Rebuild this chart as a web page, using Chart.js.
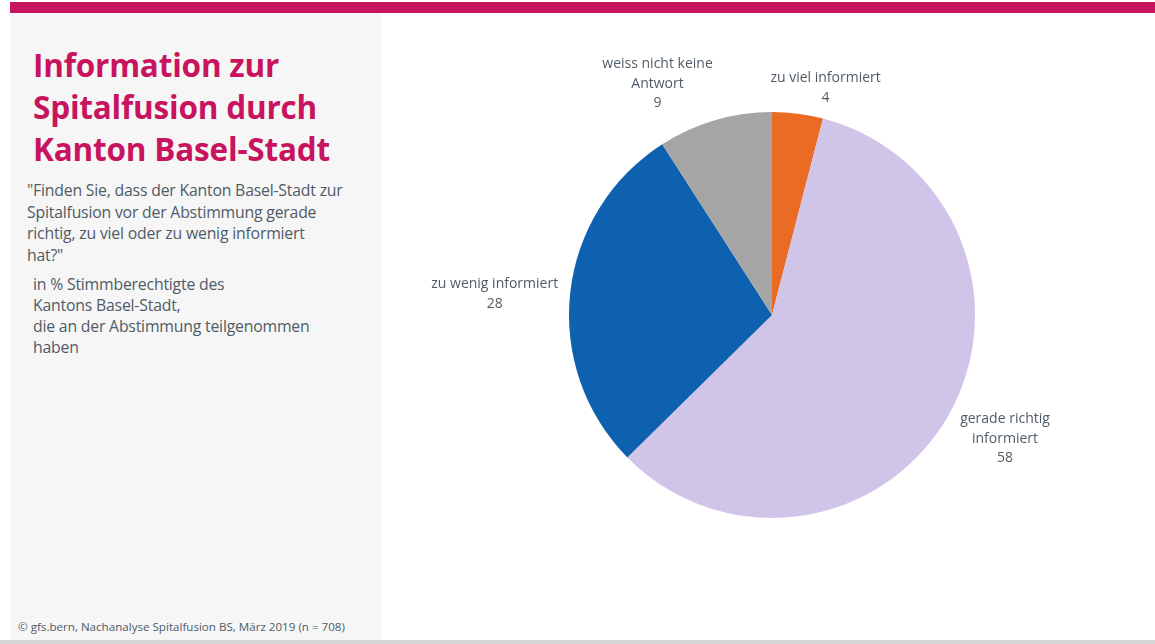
<!DOCTYPE html>
<html lang="de">
<head>
<meta charset="utf-8">
<title>Information zur Spitalfusion durch Kanton Basel-Stadt</title>
<script src="https://cdn.jsdelivr.net/npm/chart.js@4"></script>
<style>
  html, body { margin: 0; padding: 0; background: #fff; }
  body { width: 1155px; height: 644px; position: relative; overflow: hidden; font-family: "Open Sans", "Noto Sans", sans-serif; }
  .topbar { position: absolute; left: 10px; top: 2px; width: 1145px; height: 11px; background: #c8135f; }
  .side { position: absolute; left: 10px; top: 13px; width: 371px; height: 627px; background: #f6f6f6; }
  .bottombar { position: absolute; left: 0; top: 640px; width: 1155px; height: 4px; background: #d6d6d6; }
  h1 { position: absolute; left: 33px; top: 44px; margin: 0; font-size: 31.5px; line-height: 42px; font-weight: 700; color: #c8135f; letter-spacing: -0.2px; }
  .question { position: absolute; left: 27px; top: 180px; margin: 0; font-size: 15.8px; line-height: 21.5px; color: #505b66; white-space: nowrap; letter-spacing: -0.2px; }
  .base { position: absolute; left: 33px; top: 274px; margin: 0; font-size: 15.8px; line-height: 21px; color: #505b66; white-space: nowrap; letter-spacing: -0.2px; }
  .source { position: absolute; left: 18px; top: 619px; margin: 0; font-size: 11.6px; color: #505b66; }
  .chart-box { position: absolute; left: 381px; top: 13px; width: 774px; height: 624px; }
</style>
</head>
<body>
<div class="topbar"></div>
<div class="side"></div>
<div class="bottombar"></div>
<h1>Information zur<br>Spitalfusion durch<br>Kanton Basel-Stadt</h1>
<p class="question">"Finden Sie, dass der Kanton Basel-Stadt zur<br>Spitalfusion vor der Abstimmung gerade<br>richtig, zu viel oder zu wenig informiert<br>hat?"</p>
<p class="base">in % Stimmberechtigte des<br>Kantons Basel-Stadt,<br>die an der Abstimmung teilgenommen<br>haben</p>
<p class="source">© gfs.bern, Nachanalyse Spitalfusion BS, März 2019 (n = 708)</p>
<div class="chart-box"><canvas id="pie"></canvas></div>

<script>
// Answer categories, clockwise from 12 o'clock
const categories = [
    ['zu viel informiert'],
    ['gerade richtig', 'informiert'],
    ['zu wenig informiert'],
    ['weiss nicht keine', 'Antwort']
];
const shares = [4, 58, 28, 9];
const sliceColors = ['#e96b24', '#d0c5e8', '#0e61ae', '#a5a5a5'];

// Label placement: distance from the centre (in radii) and angle nudge (degrees)
const labelDistance = [1.15, 1.30, 1.37, 1.27];
const labelAngleShift = [6, -2, -2, -10];

// Draws the category name and value outside each slice
const outsideLabels = {
    id: 'outsideLabels',
    afterDatasetsDraw(chart) {
        const ctx = chart.ctx;
        const meta = chart.getDatasetMeta(0);
        ctx.save();
        ctx.font = '14px "Open Sans", sans-serif';
        ctx.fillStyle = '#505b66';
        ctx.textAlign = 'center';
        ctx.textBaseline = 'middle';
        meta.data.forEach((arc, i) => {
            const p = arc.getProps(['x', 'y', 'startAngle', 'endAngle', 'outerRadius'], true);
            const mid = (p.startAngle + p.endAngle) / 2 + labelAngleShift[i] * Math.PI / 180;
            const r = p.outerRadius * labelDistance[i];
            const cx = p.x + Math.cos(mid) * r;
            const cy = p.y + Math.sin(mid) * r;
            const lines = categories[i].concat(String(shares[i]));
            const lh = 19.5;
            const y0 = cy - (lines.length - 1) * lh / 2;
            lines.forEach((t, k) => ctx.fillText(t, cx, y0 + k * lh));
        });
        ctx.restore();
    }
};

const chart = new Chart(document.getElementById('pie'), {
    type: 'pie',
    data: {
        labels: categories.map(c => c.join(' ')),
        datasets: [{
            data: shares,
            backgroundColor: sliceColors,
            borderWidth: 0
        }]
    },
    options: {
        responsive: true,
        maintainAspectRatio: false,
        animation: false,
        layout: { padding: { left: 8, right: 0, top: 99, bottom: 119 } },
        plugins: {
            legend: { display: false },
            tooltip: { enabled: false }
        }
    },
    plugins: [outsideLabels]
});
</script>
</body>
</html>
